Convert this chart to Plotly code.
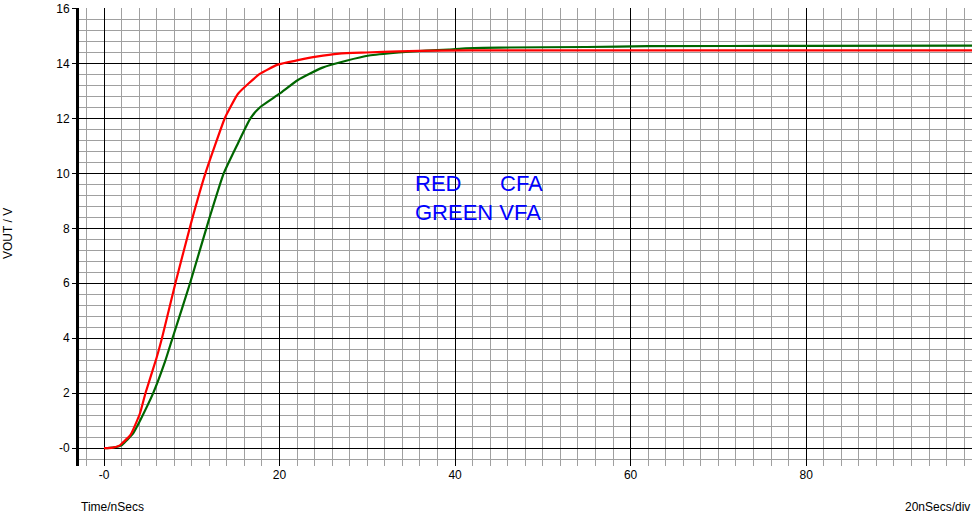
import plotly.graph_objects as go

# CFA (red) trace
cfa_t = [0, 1.0, 1.8, 2.2, 3.0, 4.1, 4.72, 6.0, 6.6, 8.13, 10.0, 11.55, 13.75, 14.3, 15.27,
         17.75, 19.8, 22.1, 24.2, 26.8, 29.9, 33.6, 38, 45, 60, 80, 99]
cfa_v = [0, 0.02, 0.1, 0.22, 0.47, 1.27, 2.0, 3.3, 4.0, 6.0, 8.29, 10.0, 12.0, 12.35, 12.9,
         13.62, 13.96, 14.12, 14.25, 14.36, 14.4, 14.44, 14.47, 14.48, 14.48, 14.48, 14.48]

# VFA (green) trace
vfa_t = [0, 1.0, 2.0, 2.6, 3.3, 4.1, 5.6, 6.9, 7.8, 9.8, 11.93, 13.64, 15.27, 16.68, 17.75,
         20.0, 22.1, 24.9, 27.6, 30.2, 33.6, 36.7, 39.3, 41.2, 45, 55, 62, 80, 99]
vfa_v = [0, 0.02, 0.1, 0.29, 0.53, 1.0, 2.0, 3.1, 4.0, 6.0, 8.29, 10.0, 11.1, 12.0, 12.4,
         12.9, 13.4, 13.85, 14.1, 14.29, 14.4, 14.47, 14.51, 14.55, 14.58, 14.6, 14.63, 14.64, 14.65]

x_tickvals = [0, 20, 40, 60, 80]
x_ticktext = ["-0", "20", "40", "60", "80"]
y_tickvals = [0, 2, 4, 6, 8, 10, 12, 14, 16]
y_ticktext = ["-0", "2", "4", "6", "8", "10", "12", "14", "16"]

FONT = "Liberation Sans, Arial, sans-serif"

fig = go.Figure()
fig.add_trace(go.Scatter(x=vfa_t, y=vfa_v, mode="lines",
                         line=dict(color="#006600", width=2.2, shape="spline", smoothing=0.5),
                         showlegend=False))
fig.add_trace(go.Scatter(x=cfa_t, y=cfa_v, mode="lines",
                         line=dict(color="#ff0000", width=2.2, shape="spline", smoothing=0.5),
                         showlegend=False))

fig.update_layout(
    width=975, height=514,
    margin=dict(l=79, r=3, t=8, b=48),
    paper_bgcolor="white", plot_bgcolor="white",
    font=dict(family=FONT, size=12, color="black"),
    xaxis=dict(
        range=[-2.85, 98.9],
        tickvals=x_tickvals, ticktext=x_ticktext,
        showgrid=True, gridcolor="black", gridwidth=1,
        minor=dict(dtick=2, tick0=0, showgrid=True, gridcolor="#a0a0a0", gridwidth=1),
        zeroline=False, showline=False, ticks="",
        tickfont=dict(family=FONT, size=12, color="black"),
    ),
    yaxis=dict(
        range=[-0.65, 16.02],
        tickvals=y_tickvals, ticktext=y_ticktext,
        showgrid=True, gridcolor="black", gridwidth=1,
        minor=dict(dtick=0.4, tick0=0, showgrid=True, gridcolor="#a0a0a0", gridwidth=1),
        zeroline=False, showline=True, linecolor="black", linewidth=3,
        ticks="outside", ticklen=4, tickcolor="black", tickwidth=1,
        tickfont=dict(family=FONT, size=12, color="black"),
    ),
    annotations=[
        dict(text="RED", x=38.1, y=9.64, xref="x", yref="y", showarrow=False,
             font=dict(family=FONT, size=22, color="#0000ff")),
        dict(text="CFA", x=47.6, y=9.64, xref="x", yref="y", showarrow=False,
             font=dict(family=FONT, size=22, color="#0000ff")),
        dict(text="GREEN VFA", x=42.6, y=8.58, xref="x", yref="y", showarrow=False,
             font=dict(family=FONT, size=22, color="#0000ff")),
        dict(text="Time/nSecs", x=0.0, y=-0.0895, xref="paper", yref="paper",
             xanchor="left", yanchor="middle", showarrow=False,
             font=dict(family=FONT, size=12, color="black")),
        dict(text="20nSecs/div", x=1.0, y=-0.0895, xref="paper", yref="paper",
             xanchor="right", yanchor="middle", showarrow=False,
             font=dict(family=FONT, size=12, color="black")),
        dict(text="VOUT / V", x=-0.0795, y=0.5066, xref="paper", yref="paper",
             xanchor="center", yanchor="middle", textangle=-90, showarrow=False,
             font=dict(family=FONT, size=12, color="black")),
    ],
)

fig.write_html("out.html",
               config={"displayModeBar": False},
               post_script="document.body.style.margin='0';document.body.style.overflow='hidden';")
